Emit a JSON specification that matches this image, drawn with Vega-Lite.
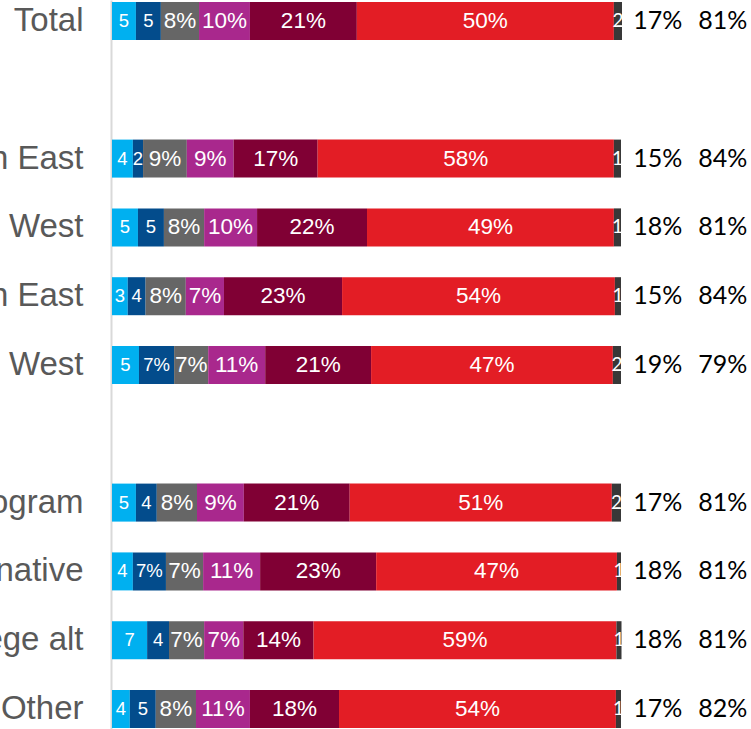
{
  "$schema": "https://vega.github.io/schema/vega-lite/v6.json",
  "autosize": {"type": "none"},
  "padding": {"left": 112, "top": 0, "right": 130, "bottom": 0},
  "width": 509,
  "height": 730,
  "background": "white",
  "config": {"view": {"stroke": null}},
  "datasets": {
    "segs": [
      {"row": "Total", "k": 1, "value": 4.7, "label": "5"},
      {"row": "Total", "k": 2, "value": 4.9, "label": "5"},
      {"row": "Total", "k": 3, "value": 7.5, "label": "8%"},
      {"row": "Total", "k": 4, "value": 10.0, "label": "10%"},
      {"row": "Total", "k": 5, "value": 21.0, "label": "21%"},
      {"row": "Total", "k": 6, "value": 50.5, "label": "50%"},
      {"row": "Total", "k": 7, "value": 1.6, "label": "2"},
      {"row": "Urban East", "k": 1, "value": 4.1, "label": "4"},
      {"row": "Urban East", "k": 2, "value": 2.0, "label": "2"},
      {"row": "Urban East", "k": 3, "value": 8.6, "label": "9%"},
      {"row": "Urban East", "k": 4, "value": 9.2, "label": "9%"},
      {"row": "Urban East", "k": 5, "value": 16.5, "label": "17%"},
      {"row": "Urban East", "k": 6, "value": 58.2, "label": "58%"},
      {"row": "Urban East", "k": 7, "value": 1.4, "label": "1"},
      {"row": "Urban West", "k": 1, "value": 5.1, "label": "5"},
      {"row": "Urban West", "k": 2, "value": 5.1, "label": "5"},
      {"row": "Urban West", "k": 3, "value": 7.9, "label": "8%"},
      {"row": "Urban West", "k": 4, "value": 10.4, "label": "10%"},
      {"row": "Urban West", "k": 5, "value": 21.6, "label": "22%"},
      {"row": "Urban West", "k": 6, "value": 48.5, "label": "49%"},
      {"row": "Urban West", "k": 7, "value": 1.4, "label": "1"},
      {"row": "Suburban East", "k": 1, "value": 3.1, "label": "3"},
      {"row": "Suburban East", "k": 2, "value": 3.5, "label": "4"},
      {"row": "Suburban East", "k": 3, "value": 7.9, "label": "8%"},
      {"row": "Suburban East", "k": 4, "value": 7.5, "label": "7%"},
      {"row": "Suburban East", "k": 5, "value": 23.2, "label": "23%"},
      {"row": "Suburban East", "k": 6, "value": 53.6, "label": "54%"},
      {"row": "Suburban East", "k": 7, "value": 1.2, "label": "1"},
      {"row": "Suburban West", "k": 1, "value": 5.3, "label": "5"},
      {"row": "Suburban West", "k": 2, "value": 6.9, "label": "7%"},
      {"row": "Suburban West", "k": 3, "value": 6.7, "label": "7%"},
      {"row": "Suburban West", "k": 4, "value": 11.2, "label": "11%"},
      {"row": "Suburban West", "k": 5, "value": 20.8, "label": "21%"},
      {"row": "Suburban West", "k": 6, "value": 47.5, "label": "47%"},
      {"row": "Suburban West", "k": 7, "value": 1.6, "label": "2"},
      {"row": "Degree program", "k": 1, "value": 4.7, "label": "5"},
      {"row": "Degree program", "k": 2, "value": 4.1, "label": "4"},
      {"row": "Degree program", "k": 3, "value": 7.9, "label": "8%"},
      {"row": "Degree program", "k": 4, "value": 9.2, "label": "9%"},
      {"row": "Degree program", "k": 5, "value": 20.8, "label": "21%"},
      {"row": "Degree program", "k": 6, "value": 51.5, "label": "51%"},
      {"row": "Degree program", "k": 7, "value": 1.8, "label": "2"},
      {"row": "Alternative", "k": 1, "value": 4.1, "label": "4"},
      {"row": "Alternative", "k": 2, "value": 6.5, "label": "7%"},
      {"row": "Alternative", "k": 3, "value": 7.3, "label": "7%"},
      {"row": "Alternative", "k": 4, "value": 11.2, "label": "11%"},
      {"row": "Alternative", "k": 5, "value": 22.8, "label": "23%"},
      {"row": "Alternative", "k": 6, "value": 47.3, "label": "47%"},
      {"row": "Alternative", "k": 7, "value": 0.8, "label": "1"},
      {"row": "College alt", "k": 1, "value": 6.9, "label": "7"},
      {"row": "College alt", "k": 2, "value": 4.3, "label": "4"},
      {"row": "College alt", "k": 3, "value": 6.9, "label": "7%"},
      {"row": "College alt", "k": 4, "value": 7.7, "label": "7%"},
      {"row": "College alt", "k": 5, "value": 13.8, "label": "14%"},
      {"row": "College alt", "k": 6, "value": 59.5, "label": "59%"},
      {"row": "College alt", "k": 7, "value": 1.0, "label": "1"},
      {"row": "Other", "k": 1, "value": 3.5, "label": "4"},
      {"row": "Other", "k": 2, "value": 5.1, "label": "5"},
      {"row": "Other", "k": 3, "value": 7.9, "label": "8%"},
      {"row": "Other", "k": 4, "value": 10.6, "label": "11%"},
      {"row": "Other", "k": 5, "value": 17.5, "label": "18%"},
      {"row": "Other", "k": 6, "value": 54.4, "label": "54%"},
      {"row": "Other", "k": 7, "value": 1.0, "label": "1"}
    ],
    "totals": [
      {"row": "Total", "low": "17%", "high": "81%"},
      {"row": "Urban East", "low": "15%", "high": "84%"},
      {"row": "Urban West", "low": "18%", "high": "81%"},
      {"row": "Suburban East", "low": "15%", "high": "84%"},
      {"row": "Suburban West", "low": "19%", "high": "79%"},
      {"row": "Degree program", "low": "17%", "high": "81%"},
      {"row": "Alternative", "low": "18%", "high": "81%"},
      {"row": "College alt", "low": "18%", "high": "81%"},
      {"row": "Other", "low": "17%", "high": "82%"}
    ]
  },
  "encoding": {
    "y": {
      "field": "row",
      "type": "nominal",
      "scale": {
        "domain": ["Total", "gap1", "Urban East", "Urban West", "Suburban East", "Suburban West", "gap2", "Degree program", "Alternative", "College alt", "Other"],
        "paddingInner": 0.4477,
        "paddingOuter": 0.029
      },
      "axis": {
        "title": null,
        "ticks": false,
        "labelExpr": "indexof(datum.value, 'gap') == 0 ? '' : datum.value",
        "labelFont": "Liberation Sans",
        "labelFontSize": 33,
        "labelColor": "#595959",
        "labelPadding": 28,
        "labelLimit": 400,
        "domainColor": "#d9d9d9",
        "domainWidth": 2,
        "offset": 1
      }
    }
  },
  "layer": [
    {
      "data": {"name": "segs"},
      "transform": [
        {"stack": "value", "groupby": ["row"], "sort": [{"field": "k", "order": "ascending"}], "as": ["x0", "x1"]},
        {"calculate": "(datum.x0 + datum.x1) / 2", "as": "mid"}
      ],
      "layer": [
        {
          "mark": {"type": "bar"},
          "encoding": {
            "x": {"field": "x0", "type": "quantitative", "scale": {"domain": [0, 100], "nice": false, "zero": true}, "axis": null},
            "x2": {"field": "x1"},
            "color": {
              "field": "k",
              "type": "ordinal",
              "scale": {"domain": [1, 2, 3, 4, 5, 6, 7], "range": ["#00b0f0", "#034c8c", "#666666", "#a9288d", "#800034", "#e31d25", "#383838"]},
              "legend": null
            }
          }
        },
        {
          "transform": [{"filter": "datum.k >= 3 && datum.k <= 6"}],
          "mark": {"type": "text", "color": "white", "font": "Liberation Sans", "fontSize": 22.5, "baseline": "middle", "align": "center"},
          "encoding": {
            "x": {"field": "mid", "type": "quantitative"},
            "text": {"field": "label"}
          }
        },
        {
          "transform": [{"filter": "datum.k <= 2"}],
          "mark": {"type": "text", "color": "white", "font": "Liberation Sans", "fontSize": 18.5, "baseline": "middle", "align": "center"},
          "encoding": {
            "x": {"field": "mid", "type": "quantitative"},
            "text": {"field": "label"}
          }
        },
        {
          "transform": [{"filter": "datum.k == 7"}],
          "mark": {"type": "text", "color": "white", "font": "Lato", "fontSize": 19, "baseline": "middle", "align": "center"},
          "encoding": {
            "x": {"field": "mid", "type": "quantitative"},
            "text": {"field": "label"}
          }
        }
      ]
    },
    {
      "data": {"name": "totals"},
      "layer": [
        {
          "mark": {"type": "text", "font": "Lato", "fontSize": 25, "color": "black", "align": "center", "baseline": "middle"},
          "encoding": {"x": {"datum": 107.2, "type": "quantitative"}, "text": {"field": "low"}}
        },
        {
          "mark": {"type": "text", "font": "Lato", "fontSize": 25, "color": "black", "align": "center", "baseline": "middle"},
          "encoding": {"x": {"datum": 120.0, "type": "quantitative"}, "text": {"field": "high"}}
        }
      ]
    }
  ]
}
